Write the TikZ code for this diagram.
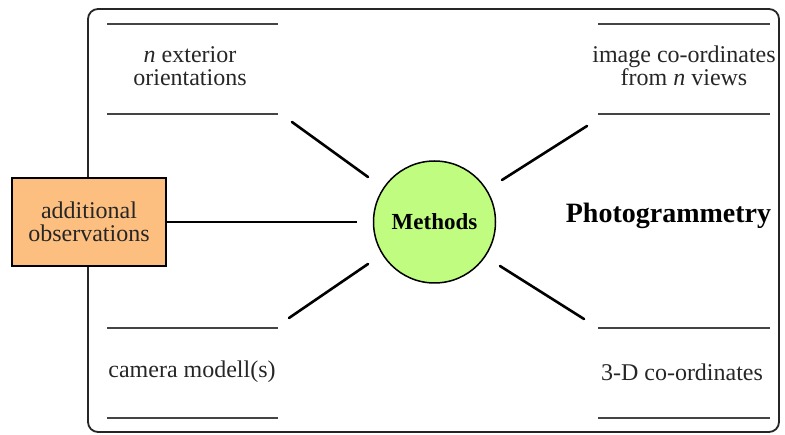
\documentclass[tikz,border=0pt]{standalone}
\usepackage{fontspec}
\setmainfont{Liberation Serif}
\definecolor{boxorange}{HTML}{FDBF7F}
\definecolor{circgreen}{HTML}{BFFC80}
\definecolor{rulegray}{HTML}{444444}
\begin{document}
\begin{tikzpicture}[x=1pt,y=-1pt,
  txt/.style={font=\fontsize{24}{23.5}\selectfont, align=center, inner sep=0pt, text=black!85},
  rulel/.style={draw=rulegray, line width=2.6pt},
  conn/.style={draw=black, line width=2.6pt, line cap=round},
  frame/.style={draw=black!85, line width=1.8pt, rounded corners=10pt}]
\useasboundingbox (0,0) rectangle (785,435);
% outer frame
\draw[frame] (88,9) rectangle (779,432);
% horizontal rules
\draw[rulel] (107,24) -- (278,24);
\draw[rulel] (107,114) -- (278,114);
\draw[rulel] (107,328) -- (278,328);
\draw[rulel] (107,418) -- (278,418);
\draw[rulel] (598,24) -- (770,24);
\draw[rulel] (598,114) -- (770,114);
\draw[rulel] (598,328) -- (770,328);
\draw[rulel] (598,418) -- (770,418);
% text nodes
\node[txt] (ext) at (190,66) {\textit{n} exterior\\orientations};
\node[txt] (img) at (684,66) {image co-ordinates\\from \textit{n} views};
\node[txt] (cam) at (192,372) {camera modell(s)};
\node[txt] (xyz) at (682,372) {3-D co-ordinates};
\node[font=\bfseries\fontsize{28}{28}\selectfont, inner sep=0pt] (photo) at (668.5,216) {Photogrammetry};
% additional observations box
\node[draw=black, line width=1.2pt, fill=boxorange, minimum width=154pt, minimum height=88pt,
      txt, text=black!85] (add) at (89,222) {additional\\observations};
% methods circle
\node[circle, draw=black, line width=1.5pt, fill=circgreen, minimum size=122pt, inner sep=0pt,
      font=\bfseries\fontsize{23}{23}\selectfont] (meth) at (434.5,222) {Methods};
% connector end points
\coordinate (a1) at (292,122); \coordinate (a2) at (368,177);
\coordinate (b1) at (587,126); \coordinate (b2) at (502,180);
\coordinate (c1) at (289,318); \coordinate (c2) at (368,264);
\coordinate (d1) at (584,319); \coordinate (d2) at (500,266);
\coordinate (e2) at (357,222);
\draw[conn] (a1) -- (a2);
\draw[conn] (b1) -- (b2);
\draw[conn] (c1) -- (c2);
\draw[conn] (d1) -- (d2);
\draw[conn, line cap=butt] (add.east) -- (e2);
\end{tikzpicture}
\end{document}
